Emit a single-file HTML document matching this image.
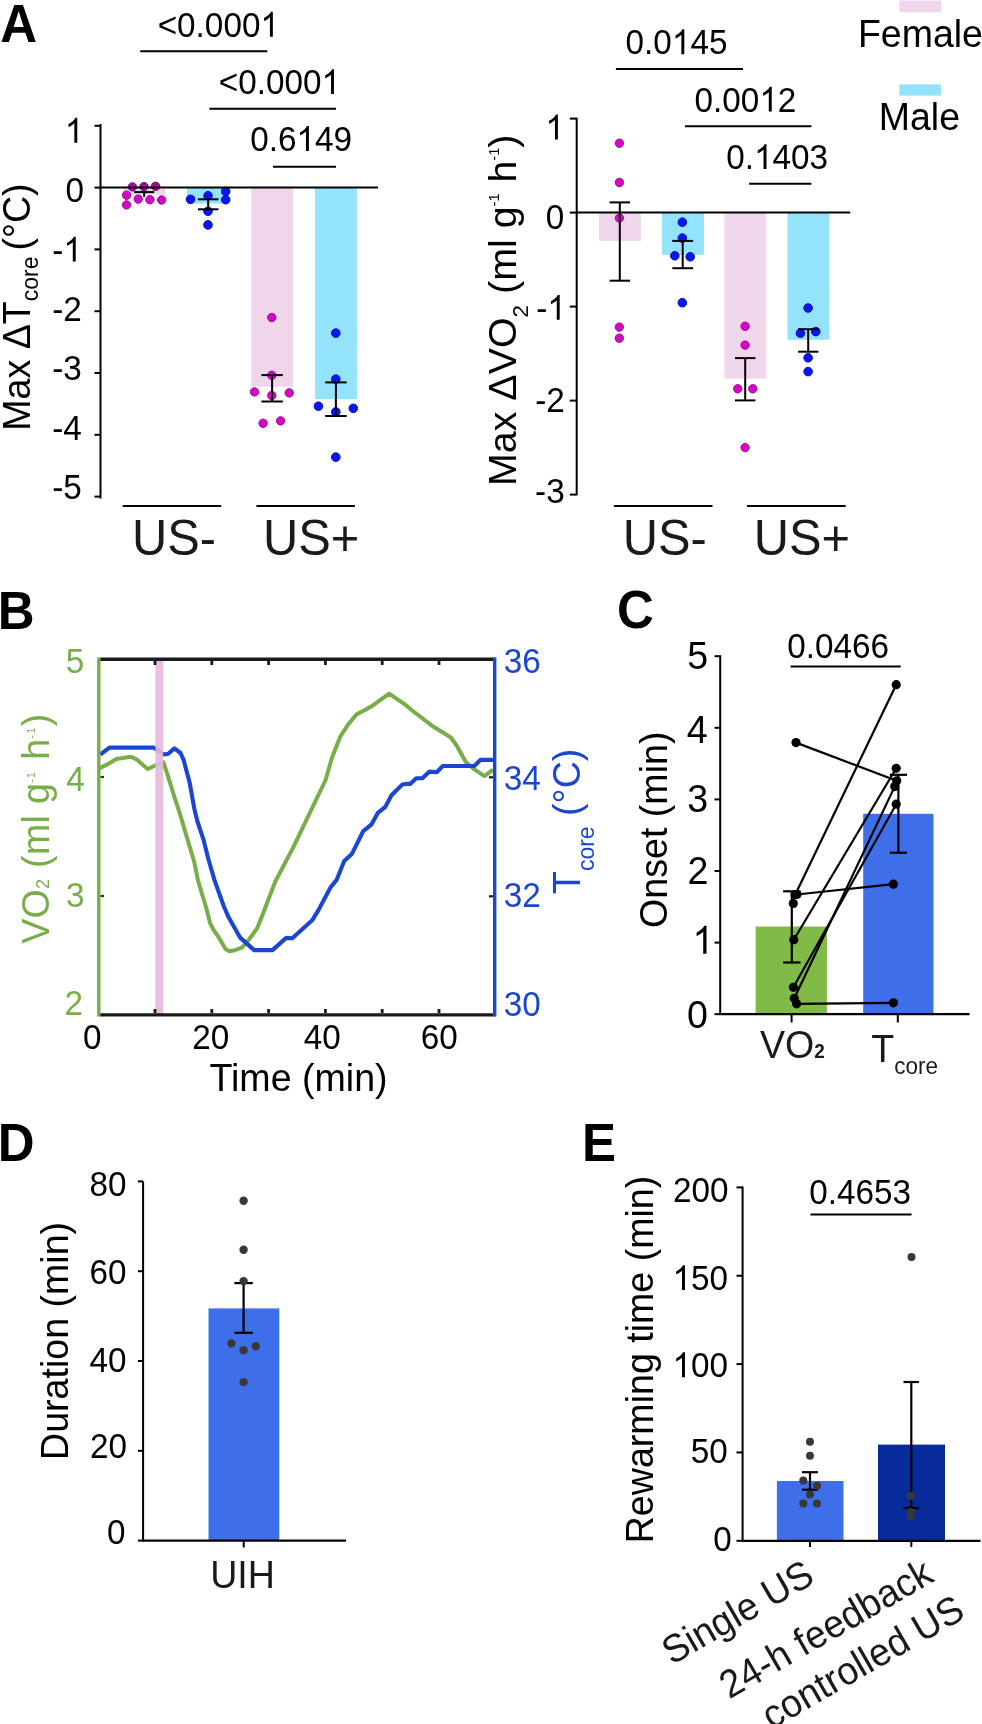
<!DOCTYPE html>
<html><head><meta charset="utf-8"><style>
html,body{margin:0;padding:0;background:#fff;}
svg{display:block;will-change:transform;}
text{font-family:"Liberation Sans", sans-serif;}
</style></head><body>
<svg width="982" height="1724" viewBox="0 0 982 1724" font-family='"Liberation Sans", sans-serif'>
<rect width="982" height="1724" fill="#fff"/>
<text transform="translate(0.33,41.80) scale(1,1.04)" font-size="51" fill="#000" font-weight="bold">A</text>
<text transform="translate(-2.21,628.50) scale(1,1.04)" font-size="51" fill="#000" font-weight="bold">B</text>
<text transform="translate(617.01,628.40) scale(1,1.04)" font-size="51" fill="#000" font-weight="bold">C</text>
<text transform="translate(-2.21,1160.80) scale(1,1.04)" font-size="51" fill="#000" font-weight="bold">D</text>
<text transform="translate(581.89,1160.80) scale(1,1.04)" font-size="51" fill="#000" font-weight="bold">E</text>
<rect x="123.00" y="187.60" width="42.00" height="7.40" fill="#F0D6EA"/>
<rect x="187.00" y="187.60" width="42.00" height="16.00" fill="#92E3FB"/>
<rect x="251.40" y="187.60" width="41.80" height="199.30" fill="#F0D6EA"/>
<rect x="315.10" y="187.60" width="41.80" height="211.50" fill="#92E3FB"/>
<circle cx="132.40" cy="186.90" r="4.199999999999999" fill="#A40CA0" stroke="#7A0878" stroke-width="1"/>
<circle cx="144.00" cy="186.60" r="4.199999999999999" fill="#A40CA0" stroke="#7A0878" stroke-width="1"/>
<circle cx="155.60" cy="186.30" r="4.199999999999999" fill="#A40CA0" stroke="#7A0878" stroke-width="1"/>
<circle cx="126.60" cy="195.20" r="4.199999999999999" fill="#D20AC4" stroke="#A0089A" stroke-width="1"/>
<circle cx="138.20" cy="199.10" r="4.199999999999999" fill="#D20AC4" stroke="#A0089A" stroke-width="1"/>
<circle cx="149.90" cy="199.70" r="4.199999999999999" fill="#D20AC4" stroke="#A0089A" stroke-width="1"/>
<circle cx="161.70" cy="200.00" r="4.199999999999999" fill="#D20AC4" stroke="#A0089A" stroke-width="1"/>
<circle cx="126.60" cy="204.90" r="4.199999999999999" fill="#D20AC4" stroke="#A0089A" stroke-width="1"/>
<circle cx="190.50" cy="199.30" r="4.3" fill="#0818EC" stroke="#0410C4" stroke-width="1"/>
<circle cx="208.00" cy="195.70" r="4.3" fill="#0818EC" stroke="#0410C4" stroke-width="1"/>
<circle cx="225.70" cy="191.40" r="4.3" fill="#0818EC" stroke="#0410C4" stroke-width="1"/>
<circle cx="225.70" cy="199.70" r="4.3" fill="#0818EC" stroke="#0410C4" stroke-width="1"/>
<circle cx="208.00" cy="211.30" r="4.3" fill="#0818EC" stroke="#0410C4" stroke-width="1"/>
<circle cx="208.00" cy="224.90" r="4.3" fill="#0818EC" stroke="#0410C4" stroke-width="1"/>
<circle cx="271.80" cy="317.50" r="4.199999999999999" fill="#D20AC4" stroke="#A0089A" stroke-width="1"/>
<circle cx="271.80" cy="375.30" r="4.199999999999999" fill="#D20AC4" stroke="#A0089A" stroke-width="1"/>
<circle cx="254.50" cy="391.90" r="4.199999999999999" fill="#D20AC4" stroke="#A0089A" stroke-width="1"/>
<circle cx="271.80" cy="395.50" r="4.199999999999999" fill="#D20AC4" stroke="#A0089A" stroke-width="1"/>
<circle cx="289.20" cy="392.90" r="4.199999999999999" fill="#D20AC4" stroke="#A0089A" stroke-width="1"/>
<circle cx="263.10" cy="423.30" r="4.199999999999999" fill="#D20AC4" stroke="#A0089A" stroke-width="1"/>
<circle cx="280.60" cy="420.90" r="4.199999999999999" fill="#D20AC4" stroke="#A0089A" stroke-width="1"/>
<circle cx="335.80" cy="333.10" r="4.3" fill="#0818EC" stroke="#0410C4" stroke-width="1"/>
<circle cx="335.80" cy="379.10" r="4.3" fill="#0818EC" stroke="#0410C4" stroke-width="1"/>
<circle cx="318.40" cy="406.20" r="4.3" fill="#0818EC" stroke="#0410C4" stroke-width="1"/>
<circle cx="335.80" cy="411.90" r="4.3" fill="#0818EC" stroke="#0410C4" stroke-width="1"/>
<circle cx="353.30" cy="408.30" r="4.3" fill="#0818EC" stroke="#0410C4" stroke-width="1"/>
<circle cx="335.80" cy="457.10" r="4.3" fill="#0818EC" stroke="#0410C4" stroke-width="1"/>
<line x1="144.20" y1="192.10" x2="144.20" y2="197.00" stroke="#000" stroke-width="2"/>
<line x1="134.20" y1="192.10" x2="154.20" y2="192.10" stroke="#000" stroke-width="2"/>
<line x1="208.20" y1="199.30" x2="208.20" y2="209.30" stroke="#000" stroke-width="2"/>
<line x1="197.90" y1="199.30" x2="218.50" y2="199.30" stroke="#000" stroke-width="2"/>
<line x1="197.90" y1="209.30" x2="218.50" y2="209.30" stroke="#000" stroke-width="2"/>
<line x1="272.10" y1="375.10" x2="272.10" y2="401.50" stroke="#000" stroke-width="2"/>
<line x1="261.40" y1="375.10" x2="282.80" y2="375.10" stroke="#000" stroke-width="2"/>
<line x1="261.40" y1="401.50" x2="282.80" y2="401.50" stroke="#000" stroke-width="2"/>
<line x1="335.90" y1="382.40" x2="335.90" y2="416.00" stroke="#000" stroke-width="2"/>
<line x1="325.20" y1="382.40" x2="346.60" y2="382.40" stroke="#000" stroke-width="2"/>
<line x1="325.20" y1="416.00" x2="346.60" y2="416.00" stroke="#000" stroke-width="2"/>
<line x1="100.50" y1="124.00" x2="100.50" y2="498.50" stroke="#000" stroke-width="2"/>
<line x1="94.50" y1="125.80" x2="100.50" y2="125.80" stroke="#000" stroke-width="2"/>
<line x1="94.50" y1="187.60" x2="100.50" y2="187.60" stroke="#000" stroke-width="2"/>
<line x1="94.50" y1="249.40" x2="100.50" y2="249.40" stroke="#000" stroke-width="2"/>
<line x1="94.50" y1="311.20" x2="100.50" y2="311.20" stroke="#000" stroke-width="2"/>
<line x1="94.50" y1="373.00" x2="100.50" y2="373.00" stroke="#000" stroke-width="2"/>
<line x1="94.50" y1="434.80" x2="100.50" y2="434.80" stroke="#000" stroke-width="2"/>
<line x1="94.50" y1="496.60" x2="100.50" y2="496.60" stroke="#000" stroke-width="2"/>
<line x1="100.50" y1="187.60" x2="378.00" y2="187.60" stroke="#000" stroke-width="2"/>
<path transform="translate(64.87,142.76) scale(0.01626,-0.01691)" d="M763,0 L583,0 L583,1147 Q518,1085 412.5,1023 Q307,961 223,930 L223,1104 Q374,1175 487,1276 Q600,1377 647,1472 L763,1472 Z" fill="#000"/>
<text transform="translate(64.87,142.76) scale(1,1.04)" font-size="33.3" fill="#000"> </text>
<text transform="translate(65.50,202.16) scale(1,1.04)" font-size="33.3" fill="#000">0</text>
<path transform="translate(63.31,261.56) scale(0.01626,-0.01691)" d="M763,0 L583,0 L583,1147 Q518,1085 412.5,1023 Q307,961 223,930 L223,1104 Q374,1175 487,1276 Q600,1377 647,1472 L763,1472 Z" fill="#000"/>
<text transform="translate(52.22,261.56) scale(1,1.04)" font-size="33.3" fill="#000">- </text>
<text transform="translate(52.22,320.96) scale(1,1.04)" font-size="33.3" fill="#000">-2</text>
<text transform="translate(52.22,380.36) scale(1,1.04)" font-size="33.3" fill="#000">-3</text>
<text transform="translate(52.22,439.76) scale(1,1.04)" font-size="33.3" fill="#000">-4</text>
<text transform="translate(52.22,499.16) scale(1,1.04)" font-size="33.3" fill="#000">-5</text>
<line x1="122.70" y1="505.90" x2="221.20" y2="505.90" stroke="#000" stroke-width="2"/>
<line x1="256.40" y1="505.90" x2="354.90" y2="505.90" stroke="#000" stroke-width="2"/>
<text transform="translate(131.94,554.90) scale(1,1.04)" font-size="48.8" fill="#1a1a1a">US-</text>
<text transform="translate(262.94,554.90) scale(1,1.04)" font-size="48.8" fill="#1a1a1a">US+</text>
<path transform="translate(260.44,36.70) scale(0.01626,-0.01691)" d="M763,0 L583,0 L583,1147 Q518,1085 412.5,1023 Q307,961 223,930 L223,1104 Q374,1175 487,1276 Q600,1377 647,1472 L763,1472 Z" fill="#000"/>
<text transform="translate(157.66,36.70) scale(1,1.04)" font-size="33.3" fill="#000">&lt;0.000 </text>
<line x1="140.30" y1="51.30" x2="267.30" y2="51.30" stroke="#000" stroke-width="2"/>
<path transform="translate(321.54,94.10) scale(0.01626,-0.01691)" d="M763,0 L583,0 L583,1147 Q518,1085 412.5,1023 Q307,961 223,930 L223,1104 Q374,1175 487,1276 Q600,1377 647,1472 L763,1472 Z" fill="#000"/>
<text transform="translate(218.76,94.10) scale(1,1.04)" font-size="33.3" fill="#000">&lt;0.000 </text>
<line x1="209.40" y1="108.70" x2="336.00" y2="108.70" stroke="#000" stroke-width="2"/>
<path transform="translate(296.49,151.00) scale(0.01626,-0.01691)" d="M763,0 L583,0 L583,1147 Q518,1085 412.5,1023 Q307,961 223,930 L223,1104 Q374,1175 487,1276 Q600,1377 647,1472 L763,1472 Z" fill="#000"/>
<text transform="translate(250.20,151.00) scale(1,1.04)" font-size="33.3" fill="#000">0.6 49</text>
<line x1="273.00" y1="166.70" x2="336.00" y2="166.70" stroke="#000" stroke-width="2"/>
<text transform="translate(29.60,430.78) rotate(-90) scale(1,1.04)" x="0" y="0" font-size="37.6" fill="#000"><tspan font-size="37.6">Max ΔT</tspan><tspan font-size="23" dy="8">core</tspan><tspan font-size="37.6" dy="-8" dx="-4.5"> (°C)</tspan></text>
<rect x="599.00" y="212.60" width="41.80" height="28.30" fill="#F0D6EA"/>
<rect x="662.00" y="212.60" width="41.90" height="42.20" fill="#92E3FB"/>
<rect x="724.40" y="212.60" width="41.90" height="166.10" fill="#F0D6EA"/>
<rect x="787.50" y="212.60" width="41.80" height="127.20" fill="#92E3FB"/>
<circle cx="619.40" cy="143.20" r="4.199999999999999" fill="#D20AC4" stroke="#A0089A" stroke-width="1"/>
<circle cx="619.40" cy="182.50" r="4.199999999999999" fill="#D20AC4" stroke="#A0089A" stroke-width="1"/>
<circle cx="619.40" cy="218.10" r="4.199999999999999" fill="#D20AC4" stroke="#A0089A" stroke-width="1"/>
<circle cx="619.30" cy="327.10" r="4.199999999999999" fill="#D20AC4" stroke="#A0089A" stroke-width="1"/>
<circle cx="619.30" cy="338.20" r="4.199999999999999" fill="#D20AC4" stroke="#A0089A" stroke-width="1"/>
<circle cx="682.30" cy="222.20" r="4.3" fill="#0818EC" stroke="#0410C4" stroke-width="1"/>
<circle cx="682.30" cy="238.10" r="4.3" fill="#0818EC" stroke="#0410C4" stroke-width="1"/>
<circle cx="674.80" cy="255.80" r="4.3" fill="#0818EC" stroke="#0410C4" stroke-width="1"/>
<circle cx="690.20" cy="256.80" r="4.3" fill="#0818EC" stroke="#0410C4" stroke-width="1"/>
<circle cx="682.30" cy="302.70" r="4.3" fill="#0818EC" stroke="#0410C4" stroke-width="1"/>
<circle cx="745.10" cy="326.30" r="4.199999999999999" fill="#D20AC4" stroke="#A0089A" stroke-width="1"/>
<circle cx="745.10" cy="345.10" r="4.199999999999999" fill="#D20AC4" stroke="#A0089A" stroke-width="1"/>
<circle cx="737.70" cy="388.80" r="4.199999999999999" fill="#D20AC4" stroke="#A0089A" stroke-width="1"/>
<circle cx="752.80" cy="388.80" r="4.199999999999999" fill="#D20AC4" stroke="#A0089A" stroke-width="1"/>
<circle cx="745.10" cy="447.60" r="4.199999999999999" fill="#D20AC4" stroke="#A0089A" stroke-width="1"/>
<circle cx="808.10" cy="308.00" r="4.3" fill="#0818EC" stroke="#0410C4" stroke-width="1"/>
<circle cx="800.40" cy="333.20" r="4.3" fill="#0818EC" stroke="#0410C4" stroke-width="1"/>
<circle cx="815.80" cy="331.60" r="4.3" fill="#0818EC" stroke="#0410C4" stroke-width="1"/>
<circle cx="808.10" cy="357.80" r="4.3" fill="#0818EC" stroke="#0410C4" stroke-width="1"/>
<circle cx="808.10" cy="371.60" r="4.3" fill="#0818EC" stroke="#0410C4" stroke-width="1"/>
<line x1="619.80" y1="202.40" x2="619.80" y2="280.70" stroke="#000" stroke-width="2"/>
<line x1="609.60" y1="202.40" x2="630.00" y2="202.40" stroke="#000" stroke-width="2"/>
<line x1="609.60" y1="280.70" x2="630.00" y2="280.70" stroke="#000" stroke-width="2"/>
<line x1="682.70" y1="240.90" x2="682.70" y2="268.20" stroke="#000" stroke-width="2"/>
<line x1="672.30" y1="240.90" x2="693.10" y2="240.90" stroke="#000" stroke-width="2"/>
<line x1="672.30" y1="268.20" x2="693.10" y2="268.20" stroke="#000" stroke-width="2"/>
<line x1="745.20" y1="358.10" x2="745.20" y2="400.40" stroke="#000" stroke-width="2"/>
<line x1="735.00" y1="358.10" x2="755.40" y2="358.10" stroke="#000" stroke-width="2"/>
<line x1="735.00" y1="400.40" x2="755.40" y2="400.40" stroke="#000" stroke-width="2"/>
<line x1="808.20" y1="329.20" x2="808.20" y2="351.70" stroke="#000" stroke-width="2"/>
<line x1="798.00" y1="329.20" x2="818.40" y2="329.20" stroke="#000" stroke-width="2"/>
<line x1="798.00" y1="351.70" x2="818.40" y2="351.70" stroke="#000" stroke-width="2"/>
<line x1="576.70" y1="117.70" x2="576.70" y2="495.30" stroke="#000" stroke-width="2"/>
<line x1="569.80" y1="118.60" x2="576.70" y2="118.60" stroke="#000" stroke-width="2"/>
<line x1="569.80" y1="212.60" x2="576.70" y2="212.60" stroke="#000" stroke-width="2"/>
<line x1="569.80" y1="306.60" x2="576.70" y2="306.60" stroke="#000" stroke-width="2"/>
<line x1="569.80" y1="400.60" x2="576.70" y2="400.60" stroke="#000" stroke-width="2"/>
<line x1="569.80" y1="494.60" x2="576.70" y2="494.60" stroke="#000" stroke-width="2"/>
<line x1="576.70" y1="212.60" x2="850.20" y2="212.60" stroke="#000" stroke-width="2"/>
<path transform="translate(545.47,139.46) scale(0.01626,-0.01691)" d="M763,0 L583,0 L583,1147 Q518,1085 412.5,1023 Q307,961 223,930 L223,1104 Q374,1175 487,1276 Q600,1377 647,1472 L763,1472 Z" fill="#000"/>
<text transform="translate(545.47,139.46) scale(1,1.04)" font-size="33.3" fill="#000"> </text>
<text transform="translate(545.70,229.26) scale(1,1.04)" font-size="33.3" fill="#000">0</text>
<path transform="translate(547.29,319.86) scale(0.01626,-0.01691)" d="M763,0 L583,0 L583,1147 Q518,1085 412.5,1023 Q307,961 223,930 L223,1104 Q374,1175 487,1276 Q600,1377 647,1472 L763,1472 Z" fill="#000"/>
<text transform="translate(536.20,319.86) scale(1,1.04)" font-size="33.3" fill="#000">- </text>
<text transform="translate(535.27,411.96) scale(1,1.04)" font-size="33.3" fill="#000">-2</text>
<text transform="translate(535.05,502.96) scale(1,1.04)" font-size="33.3" fill="#000">-3</text>
<line x1="613.80" y1="505.90" x2="712.50" y2="505.90" stroke="#000" stroke-width="2"/>
<line x1="746.90" y1="505.90" x2="845.70" y2="505.90" stroke="#000" stroke-width="2"/>
<text transform="translate(622.74,554.90) scale(1,1.04)" font-size="48.8" fill="#1a1a1a">US-</text>
<text transform="translate(753.74,554.90) scale(1,1.04)" font-size="48.8" fill="#1a1a1a">US+</text>
<path transform="translate(671.89,54.20) scale(0.01626,-0.01691)" d="M763,0 L583,0 L583,1147 Q518,1085 412.5,1023 Q307,961 223,930 L223,1104 Q374,1175 487,1276 Q600,1377 647,1472 L763,1472 Z" fill="#000"/>
<text transform="translate(625.60,54.20) scale(1,1.04)" font-size="33.3" fill="#000">0.0 45</text>
<line x1="615.90" y1="68.90" x2="743.00" y2="68.90" stroke="#000" stroke-width="2"/>
<path transform="translate(759.31,111.60) scale(0.01626,-0.01691)" d="M763,0 L583,0 L583,1147 Q518,1085 412.5,1023 Q307,961 223,930 L223,1104 Q374,1175 487,1276 Q600,1377 647,1472 L763,1472 Z" fill="#000"/>
<text transform="translate(694.50,111.60) scale(1,1.04)" font-size="33.3" fill="#000">0.00 2</text>
<line x1="685.00" y1="126.30" x2="811.40" y2="126.30" stroke="#000" stroke-width="2"/>
<path transform="translate(754.07,169.10) scale(0.01626,-0.01691)" d="M763,0 L583,0 L583,1147 Q518,1085 412.5,1023 Q307,961 223,930 L223,1104 Q374,1175 487,1276 Q600,1377 647,1472 L763,1472 Z" fill="#000"/>
<text transform="translate(726.30,169.10) scale(1,1.04)" font-size="33.3" fill="#000">0. 403</text>
<line x1="749.10" y1="183.70" x2="811.40" y2="183.70" stroke="#000" stroke-width="2"/>
<text transform="translate(515.70,486.03) rotate(-90) scale(1,1.0)" x="0" y="0" font-size="39.4" fill="#000"><tspan font-size="39.4">Max ΔVO</tspan><tspan font-size="22.5" dy="12.3">2</tspan><tspan font-size="39.4" dy="-12.3"> (ml g</tspan><tspan font-size="14.5" dy="-17.2">-1</tspan><tspan font-size="39.4" dy="17.2"> h</tspan><tspan font-size="14.5" dy="-17.2">-1</tspan><tspan font-size="39.4" dy="17.2">)</tspan></text>
<rect x="899.30" y="0.50" width="41.80" height="11.90" fill="#F0D6EA"/>
<rect x="899.30" y="84.40" width="41.80" height="11.20" fill="#92E3FB"/>
<text transform="translate(857.92,47.20) scale(1,1.04)" font-size="37.5" fill="#000">Female</text>
<text transform="translate(878.72,130.00) scale(1,1.04)" font-size="37.5" fill="#000">Male</text>
<!--B-->
<polyline points="99.6,768.3 107.2,764.4 116.4,759.1 130.9,756.8 136.2,759.1 147.7,769.0 159.2,763.7 163.5,762.4 168.1,776.3 173.8,795.0 180.4,815.4 186.9,837.4 194.2,861.8 197.9,880.0 202.1,894.3 206.4,908.5 210.0,922.8 213.5,929.9 218.5,937.0 225.6,949.1 229.2,951.3 234.9,950.2 242.0,947.7 249.2,939.2 257.0,928.5 260.5,920.0 265.0,908.5 275.2,881.7 293.5,846.9 325.6,780.0 331.9,757.9 340.3,736.5 347.2,725.8 356.4,714.4 365.5,709.8 373.2,705.2 389.2,693.7 405.2,704.6 412.2,710.5 433.6,726.8 450.9,737.5 457.0,746.2 466.2,762.5 473.3,768.6 484.5,776.2 493.0,769.6" fill="none" stroke="#78AE48" stroke-width="4.0" stroke-linejoin="round" stroke-linecap="butt"/>
<polyline points="100.3,754.5 109.5,747.6 153.8,747.6 159.2,751.5 163.7,754.5 168.3,753.7 174.4,748.4 180.5,753.0 183.6,759.9 189.7,782.8 194.3,808.7 197.3,821.0 203.4,839.3 208.5,859.5 214.4,879.9 223.6,905.8 228.2,916.5 240.4,937.9 254.2,950.1 272.5,950.1 286.2,937.9 292.3,938.2 312.2,920.3 318.3,910.4 330.5,887.5 336.6,879.9 344.2,861.0 351.8,854.1 363.2,831.2 371.6,824.3 377.8,812.9 385.4,806.8 391.5,795.3 402.2,784.6 406.1,783.9 410.2,783.9 416.3,778.3 422.4,778.3 429.5,771.6 436.7,772.2 442.8,766.0 474.3,766.0 480.4,759.9 493.0,759.9" fill="none" stroke="#1B46D4" stroke-width="4.1" stroke-linejoin="round" stroke-linecap="butt"/>
<rect x="155.3" y="659" width="7.9" height="356" fill="#E6B9DC" fill-opacity="0.9"/>
<line x1="100.00" y1="659.20" x2="494.70" y2="659.20" stroke="#1a1a1a" stroke-width="3.4"/>
<line x1="100.00" y1="1014.90" x2="494.70" y2="1014.90" stroke="#1a1a1a" stroke-width="3.4"/>
<line x1="98.80" y1="657.50" x2="98.80" y2="1016.60" stroke="#78AE48" stroke-width="3.4"/>
<line x1="494.70" y1="657.50" x2="494.70" y2="1016.60" stroke="#1B46D4" stroke-width="3.4"/>
<line x1="155.00" y1="1013.00" x2="155.00" y2="1009.00" stroke="#1a1a1a" stroke-width="2.8"/>
<line x1="155.00" y1="661.00" x2="155.00" y2="665.00" stroke="#1a1a1a" stroke-width="2.8"/>
<line x1="211.80" y1="1013.00" x2="211.80" y2="1009.00" stroke="#1a1a1a" stroke-width="2.8"/>
<line x1="211.80" y1="661.00" x2="211.80" y2="665.00" stroke="#1a1a1a" stroke-width="2.8"/>
<line x1="268.60" y1="1013.00" x2="268.60" y2="1009.00" stroke="#1a1a1a" stroke-width="2.8"/>
<line x1="268.60" y1="661.00" x2="268.60" y2="665.00" stroke="#1a1a1a" stroke-width="2.8"/>
<line x1="325.40" y1="1013.00" x2="325.40" y2="1009.00" stroke="#1a1a1a" stroke-width="2.8"/>
<line x1="325.40" y1="661.00" x2="325.40" y2="665.00" stroke="#1a1a1a" stroke-width="2.8"/>
<line x1="382.20" y1="1013.00" x2="382.20" y2="1009.00" stroke="#1a1a1a" stroke-width="2.8"/>
<line x1="382.20" y1="661.00" x2="382.20" y2="665.00" stroke="#1a1a1a" stroke-width="2.8"/>
<line x1="439.00" y1="1013.00" x2="439.00" y2="1009.00" stroke="#1a1a1a" stroke-width="2.8"/>
<line x1="439.00" y1="661.00" x2="439.00" y2="665.00" stroke="#1a1a1a" stroke-width="2.8"/>
<line x1="100.50" y1="777.00" x2="104.00" y2="777.00" stroke="#2a3a1a" stroke-width="2.2"/>
<line x1="100.50" y1="896.00" x2="104.00" y2="896.00" stroke="#2a3a1a" stroke-width="2.2"/>
<line x1="489.00" y1="777.30" x2="493.00" y2="777.30" stroke="#1a1a1a" stroke-width="2.2"/>
<line x1="489.00" y1="896.30" x2="493.00" y2="896.30" stroke="#1a1a1a" stroke-width="2.2"/>
<text transform="translate(65.87,672.50) scale(1,1.04)" font-size="33.3" fill="#78AE48">5</text>
<text transform="translate(66.24,791.40) scale(1,1.04)" font-size="33.3" fill="#78AE48">4</text>
<text transform="translate(65.93,906.90) scale(1,1.04)" font-size="33.3" fill="#78AE48">3</text>
<text transform="translate(64.43,1015.40) scale(1,1.04)" font-size="33.3" fill="#78AE48">2</text>
<text transform="translate(503.73,672.50) scale(1,1.04)" font-size="33.3" fill="#1B46D4">36</text>
<text transform="translate(503.73,790.00) scale(1,1.04)" font-size="33.3" fill="#1B46D4">34</text>
<text transform="translate(503.73,906.80) scale(1,1.04)" font-size="33.3" fill="#1B46D4">32</text>
<text transform="translate(503.73,1016.10) scale(1,1.04)" font-size="33.3" fill="#1B46D4">30</text>
<text transform="translate(83.10,1049.30) scale(1,1.04)" font-size="33.3" fill="#000">0</text>
<text transform="translate(192.23,1049.30) scale(1,1.04)" font-size="33.3" fill="#000">20</text>
<text transform="translate(303.64,1049.30) scale(1,1.04)" font-size="33.3" fill="#000">40</text>
<text transform="translate(420.81,1049.30) scale(1,1.04)" font-size="33.3" fill="#000">60</text>
<text transform="translate(209.46,1091.20) scale(1,1.04)" font-size="37.6" fill="#000">Time (min)</text>
<text transform="translate(48.70,943.87) rotate(-90) scale(1,1.04)" x="0" y="0" font-size="37.6" fill="#78AE48" letter-spacing="0.3"><tspan font-size="37.6">VO</tspan><tspan font-size="18">2</tspan><tspan font-size="37.6"> (ml g</tspan><tspan font-size="10.5" dy="-13" letter-spacing="1.5">-1</tspan><tspan font-size="37.6" dy="13"> h</tspan><tspan font-size="10.5" dy="-13" letter-spacing="1.5">-1</tspan><tspan font-size="37.6" dy="13">)</tspan></text>
<text transform="translate(579.70,894.04) rotate(-90) scale(1,1.04)" x="0" y="0" font-size="37.6" fill="#1B46D4"><tspan font-size="37.6">T</tspan><tspan font-size="23" dy="13.5">core</tspan><tspan font-size="37.6" dy="-13.5"> (°C)</tspan></text>
<rect x="755.60" y="926.50" width="71.30" height="87.70" fill="#80BA47"/>
<rect x="863.20" y="813.80" width="70.30" height="200.40" fill="#3F6FE8"/>
<line x1="796.00" y1="742.60" x2="896.70" y2="780.80" stroke="#000" stroke-width="2.2"/>
<line x1="795.20" y1="894.70" x2="896.20" y2="684.70" stroke="#000" stroke-width="2.2"/>
<line x1="797.00" y1="894.50" x2="893.40" y2="884.20" stroke="#000" stroke-width="2.2"/>
<line x1="793.80" y1="939.70" x2="896.20" y2="768.30" stroke="#000" stroke-width="2.2"/>
<line x1="793.40" y1="987.30" x2="896.20" y2="804.20" stroke="#000" stroke-width="2.2"/>
<line x1="794.30" y1="998.30" x2="894.70" y2="786.60" stroke="#000" stroke-width="2.2"/>
<line x1="796.60" y1="1003.80" x2="893.40" y2="1002.80" stroke="#000" stroke-width="2.2"/>
<line x1="791.80" y1="891.30" x2="791.80" y2="962.50" stroke="#000" stroke-width="2.2"/>
<line x1="783.10" y1="891.30" x2="800.50" y2="891.30" stroke="#000" stroke-width="2.2"/>
<line x1="783.10" y1="962.50" x2="800.50" y2="962.50" stroke="#000" stroke-width="2.2"/>
<line x1="898.40" y1="774.80" x2="898.40" y2="852.70" stroke="#000" stroke-width="2.2"/>
<line x1="889.80" y1="774.80" x2="907.00" y2="774.80" stroke="#000" stroke-width="2.2"/>
<line x1="889.80" y1="852.70" x2="907.00" y2="852.70" stroke="#000" stroke-width="2.2"/>
<circle cx="796.00" cy="742.60" r="4.6" fill="#000"/>
<circle cx="896.70" cy="780.80" r="4.6" fill="#000"/>
<circle cx="795.20" cy="894.70" r="4.6" fill="#000"/>
<circle cx="896.20" cy="684.70" r="4.6" fill="#000"/>
<circle cx="797.00" cy="894.50" r="4.6" fill="#000"/>
<circle cx="893.40" cy="884.20" r="4.6" fill="#000"/>
<circle cx="793.80" cy="939.70" r="4.6" fill="#000"/>
<circle cx="896.20" cy="768.30" r="4.6" fill="#000"/>
<circle cx="793.40" cy="987.30" r="4.6" fill="#000"/>
<circle cx="896.20" cy="804.20" r="4.6" fill="#000"/>
<circle cx="794.30" cy="998.30" r="4.6" fill="#000"/>
<circle cx="894.70" cy="786.60" r="4.6" fill="#000"/>
<circle cx="796.60" cy="1003.80" r="4.6" fill="#000"/>
<circle cx="893.40" cy="1002.80" r="4.6" fill="#000"/>
<circle cx="793.30" cy="903.50" r="4.6" fill="#000"/>
<line x1="720.20" y1="655.20" x2="720.20" y2="1014.20" stroke="#000" stroke-width="2"/>
<line x1="720.20" y1="1014.20" x2="969.50" y2="1014.20" stroke="#000" stroke-width="2.2"/>
<line x1="714.50" y1="1014.20" x2="720.20" y2="1014.20" stroke="#000" stroke-width="2"/>
<line x1="714.50" y1="942.60" x2="720.20" y2="942.60" stroke="#000" stroke-width="2"/>
<line x1="714.50" y1="871.00" x2="720.20" y2="871.00" stroke="#000" stroke-width="2"/>
<line x1="714.50" y1="799.40" x2="720.20" y2="799.40" stroke="#000" stroke-width="2"/>
<line x1="714.50" y1="727.80" x2="720.20" y2="727.80" stroke="#000" stroke-width="2"/>
<line x1="714.50" y1="656.20" x2="720.20" y2="656.20" stroke="#000" stroke-width="2"/>
<line x1="791.60" y1="1014.20" x2="791.60" y2="1022.50" stroke="#000" stroke-width="2"/>
<line x1="897.80" y1="1014.20" x2="897.80" y2="1022.50" stroke="#000" stroke-width="2"/>
<text transform="translate(687.17,668.53) scale(1,1.04)" font-size="37.6" fill="#000">5</text>
<text transform="translate(686.69,743.33) scale(1,1.04)" font-size="37.6" fill="#000">4</text>
<text transform="translate(687.24,811.63) scale(1,1.04)" font-size="37.6" fill="#000">3</text>
<text transform="translate(687.48,883.93) scale(1,1.04)" font-size="37.6" fill="#000">2</text>
<path transform="translate(692.49,953.73) scale(0.01836,-0.01909)" d="M763,0 L583,0 L583,1147 Q518,1085 412.5,1023 Q307,961 223,930 L223,1104 Q374,1175 487,1276 Q600,1377 647,1472 L763,1472 Z" fill="#000"/>
<text transform="translate(692.49,953.73) scale(1,1.04)" font-size="37.6" fill="#000"> </text>
<text transform="translate(687.06,1027.93) scale(1,1.04)" font-size="37.6" fill="#000">0</text>
<text transform="translate(787.30,657.80) scale(1,1.04)" font-size="33.3" fill="#000">0.0466</text>
<line x1="790.60" y1="666.60" x2="900.70" y2="666.60" stroke="#000" stroke-width="2"/>
<text transform="translate(666.90,927.88) rotate(-90) scale(1,1.04)" x="0" y="0" font-size="37.6" fill="#000"><tspan font-size="37.6">Onset (min)</tspan></text>
<text transform="translate(760.05,1058) scale(1,1.04)" font-size="37.6" fill="#1a1a1a">VO<tspan font-size="19" font-weight="bold">2</tspan></text>
<text transform="translate(871.37,1061.6) scale(1,1.04)" font-size="37.6" fill="#1a1a1a">T<tspan font-size="22.5" dy="12.3">core</tspan></text>
<rect x="208.50" y="1308.40" width="70.80" height="232.20" fill="#3F6FE8"/>
<line x1="243.60" y1="1283.10" x2="243.60" y2="1332.80" stroke="#000" stroke-width="2.2"/>
<line x1="234.40" y1="1283.10" x2="252.80" y2="1283.10" stroke="#000" stroke-width="2.2"/>
<line x1="234.40" y1="1332.80" x2="252.80" y2="1332.80" stroke="#000" stroke-width="2.2"/>
<circle cx="243.60" cy="1200.80" r="4.2" fill="#383838"/>
<circle cx="243.60" cy="1249.70" r="4.2" fill="#383838"/>
<circle cx="243.60" cy="1281.10" r="4.2" fill="#383838"/>
<circle cx="231.40" cy="1343.40" r="4.2" fill="#383838"/>
<circle cx="243.60" cy="1350.30" r="4.2" fill="#383838"/>
<circle cx="255.80" cy="1346.30" r="4.2" fill="#383838"/>
<circle cx="243.60" cy="1382.10" r="4.2" fill="#383838"/>
<line x1="143.10" y1="1181.50" x2="143.10" y2="1540.60" stroke="#000" stroke-width="2"/>
<line x1="142.10" y1="1540.60" x2="346.00" y2="1540.60" stroke="#000" stroke-width="2.2"/>
<line x1="137.90" y1="1540.60" x2="143.10" y2="1540.60" stroke="#000" stroke-width="2"/>
<line x1="137.90" y1="1450.80" x2="143.10" y2="1450.80" stroke="#000" stroke-width="2"/>
<line x1="137.90" y1="1361.00" x2="143.10" y2="1361.00" stroke="#000" stroke-width="2"/>
<line x1="137.90" y1="1271.20" x2="143.10" y2="1271.20" stroke="#000" stroke-width="2"/>
<line x1="137.90" y1="1181.40" x2="143.10" y2="1181.40" stroke="#000" stroke-width="2"/>
<line x1="243.70" y1="1540.60" x2="243.70" y2="1547.50" stroke="#000" stroke-width="2"/>
<text transform="translate(89.56,1196.26) scale(1,1.04)" font-size="33.3" fill="#000">80</text>
<text transform="translate(89.56,1283.66) scale(1,1.04)" font-size="33.3" fill="#000">60</text>
<text transform="translate(89.56,1371.96) scale(1,1.04)" font-size="33.3" fill="#000">40</text>
<text transform="translate(90.06,1458.16) scale(1,1.04)" font-size="33.3" fill="#000">20</text>
<text transform="translate(106.88,1544.06) scale(1,1.04)" font-size="33.3" fill="#000">0</text>
<text transform="translate(210.20,1588.30) scale(1,1.04)" font-size="37.6" fill="#1a1a1a">UIH</text>
<text transform="translate(68.40,1459.98) rotate(-90) scale(1,1.04)" x="0" y="0" font-size="37.6" fill="#000"><tspan font-size="37.6">Duration (min)</tspan></text>
<rect x="776.90" y="1481.00" width="66.60" height="59.80" fill="#3F6FE8"/>
<rect x="878.00" y="1444.60" width="67.00" height="96.20" fill="#082B9B"/>
<line x1="810.00" y1="1472.20" x2="810.00" y2="1489.70" stroke="#000" stroke-width="2.2"/>
<line x1="802.00" y1="1472.20" x2="818.00" y2="1472.20" stroke="#000" stroke-width="2.2"/>
<line x1="802.00" y1="1489.70" x2="818.00" y2="1489.70" stroke="#000" stroke-width="2.2"/>
<circle cx="810.00" cy="1441.70" r="4.0" fill="#383838"/>
<circle cx="810.00" cy="1455.80" r="4.0" fill="#383838"/>
<circle cx="803.30" cy="1480.40" r="4.0" fill="#383838"/>
<circle cx="817.00" cy="1485.80" r="4.0" fill="#383838"/>
<circle cx="810.00" cy="1494.50" r="4.0" fill="#383838"/>
<circle cx="803.30" cy="1503.60" r="4.0" fill="#383838"/>
<circle cx="817.00" cy="1503.60" r="4.0" fill="#383838"/>
<line x1="911.30" y1="1382.00" x2="911.30" y2="1508.00" stroke="#000" stroke-width="2.2"/>
<line x1="903.50" y1="1382.00" x2="919.10" y2="1382.00" stroke="#000" stroke-width="2.2"/>
<line x1="903.50" y1="1508.00" x2="919.10" y2="1508.00" stroke="#000" stroke-width="2.2"/>
<circle cx="911.50" cy="1257.00" r="4.0" fill="#383838"/>
<circle cx="910.90" cy="1495.90" r="4.0" fill="#383838"/>
<circle cx="910.90" cy="1511.90" r="4.0" fill="#383838"/>
<circle cx="910.90" cy="1516.70" r="4.0" fill="#383838"/>
<line x1="742.60" y1="1186.40" x2="742.60" y2="1540.80" stroke="#000" stroke-width="2"/>
<line x1="741.60" y1="1540.80" x2="980.50" y2="1540.80" stroke="#000" stroke-width="2.2"/>
<line x1="736.50" y1="1540.80" x2="742.60" y2="1540.80" stroke="#000" stroke-width="2"/>
<line x1="736.50" y1="1452.45" x2="742.60" y2="1452.45" stroke="#000" stroke-width="2"/>
<line x1="736.50" y1="1364.10" x2="742.60" y2="1364.10" stroke="#000" stroke-width="2"/>
<line x1="736.50" y1="1275.75" x2="742.60" y2="1275.75" stroke="#000" stroke-width="2"/>
<line x1="736.50" y1="1187.40" x2="742.60" y2="1187.40" stroke="#000" stroke-width="2"/>
<line x1="810.00" y1="1540.80" x2="810.00" y2="1547.00" stroke="#000" stroke-width="2"/>
<line x1="911.30" y1="1540.80" x2="911.30" y2="1547.00" stroke="#000" stroke-width="2"/>
<text transform="translate(673.04,1202.36) scale(1,1.04)" font-size="33.3" fill="#000">200</text>
<path transform="translate(672.54,1290.06) scale(0.01626,-0.01691)" d="M763,0 L583,0 L583,1147 Q518,1085 412.5,1023 Q307,961 223,930 L223,1104 Q374,1175 487,1276 Q600,1377 647,1472 L763,1472 Z" fill="#000"/>
<text transform="translate(672.54,1290.06) scale(1,1.04)" font-size="33.3" fill="#000"> 50</text>
<path transform="translate(672.54,1377.16) scale(0.01626,-0.01691)" d="M763,0 L583,0 L583,1147 Q518,1085 412.5,1023 Q307,961 223,930 L223,1104 Q374,1175 487,1276 Q600,1377 647,1472 L763,1472 Z" fill="#000"/>
<text transform="translate(672.54,1377.16) scale(1,1.04)" font-size="33.3" fill="#000"> 00</text>
<text transform="translate(690.76,1463.06) scale(1,1.04)" font-size="33.3" fill="#000">50</text>
<text transform="translate(713.28,1551.26) scale(1,1.04)" font-size="33.3" fill="#000">0</text>
<text transform="translate(809.20,1203.70) scale(1,1.04)" font-size="33.3" fill="#000">0.4653</text>
<line x1="810.50" y1="1214.40" x2="911.50" y2="1214.40" stroke="#000" stroke-width="2"/>
<text transform="translate(652.90,1543.28) rotate(-90) scale(1,1.04)" x="0" y="0" font-size="37.6" fill="#000"><tspan font-size="37.6">Rewarming time (min)</tspan></text>
<text transform="translate(816.5,1582) rotate(-30) scale(1,1.04)" x="0" y="0" text-anchor="end" font-size="37.6" fill="#1a1a1a">Single US</text>
<text transform="translate(935.6,1580.5) rotate(-30) scale(1,1.04)" x="0" y="0" text-anchor="end" font-size="37.6" fill="#1a1a1a">24-h feedback</text>
<text transform="translate(967,1617) rotate(-30) scale(1,1.04)" x="0" y="0" text-anchor="end" font-size="37.6" fill="#1a1a1a">controlled US</text>
</svg>
</body></html>
